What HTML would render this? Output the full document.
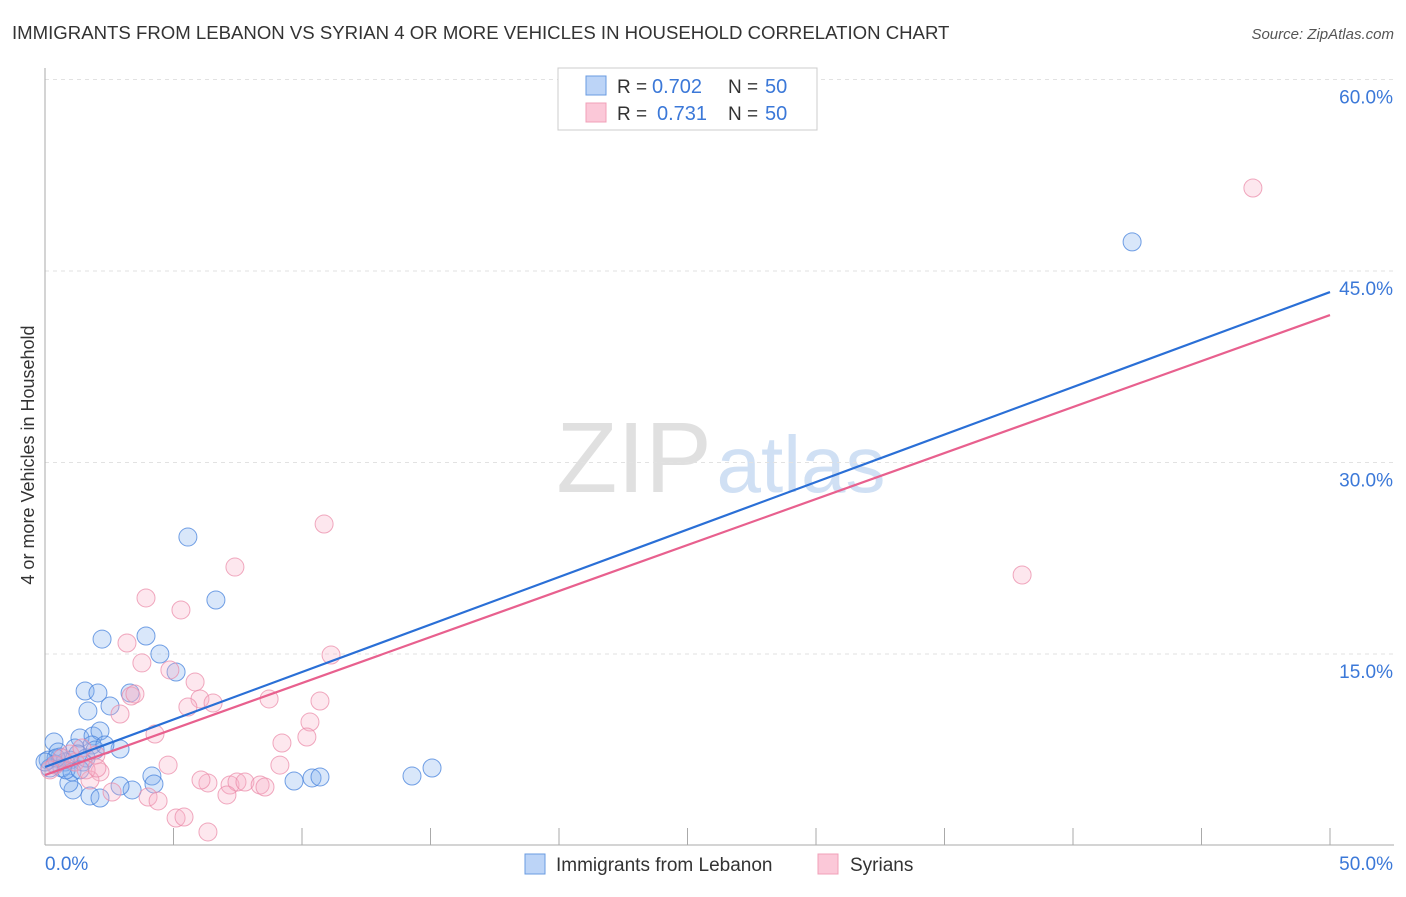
<!DOCTYPE html>
<html><head><meta charset="utf-8"><style>
body{margin:0;background:#fff;font-family:"Liberation Sans",sans-serif;}
svg text{font-family:"Liberation Sans",sans-serif;}
</style></head><body>
<svg width="1406" height="892" xmlns="http://www.w3.org/2000/svg">
<text x="12" y="39" font-size="18.6" fill="#333">IMMIGRANTS FROM LEBANON VS SYRIAN 4 OR MORE VEHICLES IN HOUSEHOLD CORRELATION CHART</text>
<text x="1394" y="39" font-size="15" fill="#555" font-style="italic" text-anchor="end">Source: ZipAtlas.com</text>
<g>
<text x="634" y="492" font-size="100" fill="#e0e0e0" font-family="Liberation Serif" text-anchor="middle">ZIP</text>
<text x="801" y="492" font-size="80" fill="#d0e0f4" text-anchor="middle">atlas</text>
</g>
<g id="grid"></g>
<g id="axes"></g>
<g id="pts"></g>
<g id="lines"></g>
<g>
<rect x="558" y="68" width="259" height="62" fill="#fff" stroke="#ccc"/>
<rect x="586" y="76" width="20" height="19" fill="#bcd4f7" stroke="#6a9be0"/>
<rect x="586" y="103" width="20" height="19" fill="#fbc8d8" stroke="#f0a0b8"/>
<text x="617" y="93" font-size="19" fill="#333">R =</text>
<text x="652" y="93" font-size="20" fill="#3b78d8">0.702</text>
<text x="728" y="93" font-size="19" fill="#333">N =</text>
<text x="765" y="93" font-size="20" fill="#3b78d8">50</text>
<text x="617" y="120" font-size="19" fill="#333">R =</text>
<text x="657" y="120" font-size="20" fill="#3b78d8">0.731</text>
<text x="728" y="120" font-size="19" fill="#333">N =</text>
<text x="765" y="120" font-size="20" fill="#3b78d8">50</text>
</g>
<g>
<rect x="525" y="854" width="20" height="20" fill="#bcd4f7" stroke="#6a9be0"/>
<text x="556" y="871" font-size="19" fill="#333">Immigrants from Lebanon</text>
<rect x="818" y="854" width="20" height="20" fill="#fbc8d8" stroke="#f0a0b8"/>
<text x="850" y="871" font-size="19" fill="#333">Syrians</text>
</g>
<text transform="translate(34,455) rotate(-90)" font-size="18" fill="#333" text-anchor="middle">4 or more Vehicles in Household</text>
</svg>
<script>
const blueX=[5.56,6.65,2.22,3.93,4.47,5.10,1.56,2.06,3.31,2.53,1.67,0.35,1.36,1.87,2.92,1.17,2.14,1.83,0.58,0.97,0.39,0.12,0.78,1.48,4.16,4.24,3.39,2.92,1.09,0.93,1.75,2.14,9.69,10.39,10.70,14.28,15.06,42.30,0.66,1.28,0.19,0.51,1.05,1.60,1.95,2.33,0.82,0.43,0.0,1.36];
const blueY=[24.16,19.23,16.17,16.41,15.00,13.59,12.10,11.95,11.95,10.93,10.54,8.11,8.42,8.58,7.56,7.64,8.97,7.87,6.93,6.69,6.38,6.69,6.54,6.54,5.44,4.82,4.35,4.66,4.35,4.90,3.88,3.72,5.05,5.29,5.37,5.44,6.07,47.28,6.07,7.17,6.07,7.32,5.76,6.85,7.48,7.87,5.92,6.85,6.54,5.92];
const pinkX=[47.0,10.86,7.39,3.93,5.29,3.19,3.35,3.50,2.92,3.77,4.86,5.84,6.03,6.54,5.56,11.13,10.70,8.72,10.31,9.22,10.19,9.14,4.28,4.79,7.20,7.47,7.78,7.08,6.34,6.07,4.01,4.40,5.10,5.41,6.34,2.61,2.14,1.98,1.17,0.39,0.19,0.66,0.97,1.44,38.02,8.37,8.56,1.75,1.60,2.02];
const pinkY=[51.5,25.18,21.81,19.39,18.45,15.86,11.71,11.87,10.30,14.30,13.75,12.81,11.48,11.16,10.85,14.92,11.32,11.48,9.67,8.03,8.50,6.30,8.73,6.30,4.74,4.97,4.97,3.96,4.90,5.13,3.80,3.49,2.15,2.23,1.06,4.19,5.76,7.09,6.54,6.30,5.92,6.85,7.17,7.64,21.19,4.74,4.58,5.13,5.92,6.07];
const blueLine=[6.15,43.35];
const pinkLine=[5.52,41.55];
const yTicks=[15,30,45,60];
const yTickLabels=["15.0%","30.0%","45.0%","60.0%"];
const xTicks=[0,5,10,15,20,25,30,35,40,45,50];
const NS="http://www.w3.org/2000/svg";
const sx=v=>45+v/50*1285, sy=v=>845.5-v/15*191.5;
function mk(t,a,p){const e=document.createElementNS(NS,t);for(const k in a)e.setAttribute(k,a[k]);p.appendChild(e);return e;}
const grid=document.getElementById('grid'),axes=document.getElementById('axes');
yTicks.forEach((v,i)=>{
 const l=mk('line',{x1:45,x2:1394,y1:sy(v),y2:sy(v),stroke:'#e2e2e2','stroke-dasharray':'4,4'},grid);
 
 
 const t=mk('text',{x:1393,y:sy(v)+24,'font-size':19,fill:'#3b78d8','text-anchor':'end'},axes);
 t.textContent=yTickLabels[i];
 
 
});
mk('line',{x1:45,x2:45,y1:68,y2:845,stroke:'#aaa'},axes);
mk('line',{x1:45,x2:1394,y1:845,y2:845,stroke:'#aaa'},axes);
xTicks.forEach(v=>{const l=mk('line',{x1:sx(v),x2:sx(v),y1:828,y2:845,stroke:'#aaa'},axes);
 
 });
let t0=mk('text',{x:45,y:870,'font-size':19,fill:'#3b78d8'},axes);t0.textContent='0.0%';


let t1=mk('text',{x:1393,y:870,'font-size':19,fill:'#3b78d8','text-anchor':'end'},axes);t1.textContent='50.0%';


const pts=document.getElementById('pts');
blueX.forEach((x,i)=>{const c=mk('circle',{cx:sx(x),cy:sy(blueY[i]),r:9,fill:'rgba(130,175,240,0.3)',stroke:'rgba(70,130,220,0.75)','stroke-width':1},pts);
 
 });
pinkX.forEach((x,i)=>{const c=mk('circle',{cx:sx(x),cy:sy(pinkY[i]),r:9,fill:'rgba(248,175,200,0.3)',stroke:'rgba(235,140,170,0.75)','stroke-width':1},pts);
 
 });
const lines=document.getElementById('lines');
const bl=mk('line',{x1:sx(0),y1:sy(blueLine[0]),x2:sx(50),y2:sy(blueLine[1]),stroke:'#2a6fd6','stroke-width':2.2},lines);


const pl=mk('line',{x1:sx(0),y1:sy(pinkLine[0]),x2:sx(50),y2:sy(pinkLine[1]),stroke:'#e8608e','stroke-width':2.2},lines);


</script>
</body></html>
